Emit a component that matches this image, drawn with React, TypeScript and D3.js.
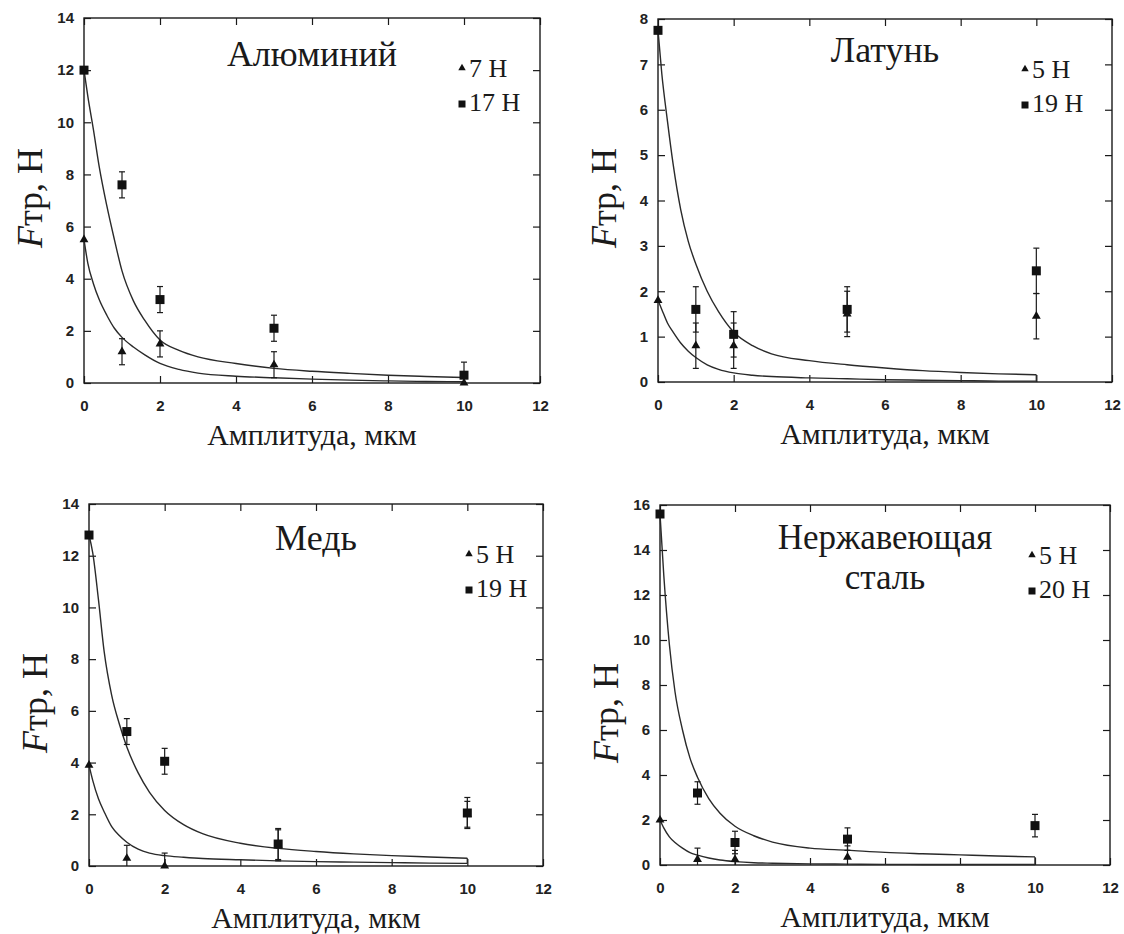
import * as d3 from "d3";
import { useEffect, useRef } from "react";

const W = 1124;
const H = 934;
const INK = "#1a1a1a";

// amplitudes at which friction was measured, мкм
const amplitudes = [0, 1, 2, 5, 10];
const fitX = [0, 0.1, 0.25, 0.4, 0.6, 0.8, 1, 1.3, 1.6, 2, 2.5, 3, 4, 5, 6, 7, 8, 9, 10];
const xTickValues = [0, 2, 4, 6, 8, 10, 12];

// Алюминий: 7 Н (triangles), 17 Н (squares)
const alLow = [5.5, 1.2, 1.5, 0.7, 0];
const alLowErr = [0, 0.5, 0.5, 0.5, 0];
const alHigh = [12.0, 7.6, 3.2, 2.1, 0.3];
const alHighErr = [0, 0.5, 0.5, 0.5, 0.5];
const alFitLow = [5.5, 4.6, 3.8, 3.2, 2.6, 2.1, 1.75, 1.38, 1.08, 0.75, 0.52, 0.38, 0.26, 0.2, 0.15, 0.11, 0.08, 0.06, 0.05];
const alFitHigh = [12.0, 11.0, 9.7, 8.3, 6.8, 5.5, 4.3, 3.15, 2.4, 1.65, 1.25, 1.0, 0.75, 0.56, 0.45, 0.37, 0.3, 0.25, 0.21];

// Латунь: 5 Н, 19 Н
const brLow = [1.8, 0.8, 0.8, 1.5, 1.45];
const brLowErr = [0, 0.5, 0.5, 0.5, 0.5];
const brHigh = [7.75, 1.6, 1.05, 1.6, 2.45];
const brHighErr = [0, 0.5, 0.5, 0.5, 0.5];
const brFitLow = [1.8, 1.6, 1.3, 1.1, 0.86, 0.68, 0.54, 0.38, 0.28, 0.2, 0.15, 0.12, 0.09, 0.07, 0.05, 0.04, 0.03, 0.02, 0.02];
const brFitHigh = [7.75, 6.8, 5.75, 4.8, 3.8, 3.1, 2.6, 2.0, 1.55, 1.1, 0.8, 0.62, 0.47, 0.38, 0.31, 0.25, 0.21, 0.18, 0.16];

// Медь: 5 Н, 19 Н
const cuLow = [3.9, 0.3, 0, 0.8, 2.0];
const cuLowErr = [0, 0.5, 0.5, 0.6, 0.5];
const cuHigh = [12.8, 5.2, 4.05, 0.85, 2.05];
const cuHighErr = [0, 0.5, 0.5, 0.6, 0.6];
const cuFitLow = [3.9, 3.3, 2.6, 2.1, 1.52, 1.18, 0.92, 0.65, 0.5, 0.4, 0.34, 0.29, 0.24, 0.2, 0.17, 0.15, 0.13, 0.11, 0.1];
const cuFitHigh = [12.8, 12.1, 10.3, 8.3, 6.6, 5.5, 4.6, 3.6, 2.85, 2.15, 1.6, 1.25, 0.88, 0.68, 0.56, 0.47, 0.4, 0.35, 0.3];

// Нержавеющая сталь: 5 Н, 20 Н
const ssLow = [2.0, 0.25, 0.25, 0.35, NaN];
const ssLowErr = [0, 0.5, 0.4, 0.5, 0];
const ssHigh = [15.6, 3.2, 1.0, 1.15, 1.75];
const ssHighErr = [0, 0.5, 0.5, 0.5, 0.5];
const ssFitLow = [2.0, 1.65, 1.25, 1.0, 0.75, 0.55, 0.44, 0.31, 0.22, 0.15, 0.1, 0.08, 0.05, 0.04, 0.03, 0.025, 0.02, 0.02, 0.02];
const ssFitHigh = [15.6, 12.9, 9.8, 7.7, 6.0, 4.75, 3.9, 2.95, 2.3, 1.72, 1.3, 1.02, 0.75, 0.66, 0.56, 0.5, 0.45, 0.4, 0.36];

const panels = [
  { title: ["Алюминий"], loads: ["7 Н", "17 Н"], yMax: 14, yStep: 2, low: alLow, lowErr: alLowErr, high: alHigh, highErr: alHighErr, fitLow: alFitLow, fitHigh: alFitHigh },
  { title: ["Латунь"], loads: ["5 Н", "19 Н"], yMax: 8, yStep: 1, low: brLow, lowErr: brLowErr, high: brHigh, highErr: brHighErr, fitLow: brFitLow, fitHigh: brFitHigh },
  { title: ["Медь"], loads: ["5 Н", "19 Н"], yMax: 14, yStep: 2, low: cuLow, lowErr: cuLowErr, high: cuHigh, highErr: cuHighErr, fitLow: cuFitLow, fitHigh: cuFitHigh },
  { title: ["Нержавеющая", "сталь"], loads: ["5 Н", "20 Н"], yMax: 16, yStep: 2, low: ssLow, lowErr: ssLowErr, high: ssHigh, highErr: ssHighErr, fitLow: ssFitLow, fitHigh: ssFitHigh },
];

// pixel frames of the four plot boxes
const frames = [
  { left: 84, right: 540, top: 18, bottom: 383, legendX: 462, titleDy: 48, yTitleY: 198 },
  { left: 658, right: 1112, top: 19, bottom: 382, legendX: 1025, titleDy: 43, yTitleY: 198 },
  { left: 89, right: 543, top: 504, bottom: 866, legendX: 469, titleDy: 46, yTitleY: 703 },
  { left: 660, right: 1110, top: 505, bottom: 865, legendX: 1032, titleDy: 44, yTitleY: 713 },
];

function drawPanel(svg, p, f) {
  const x = d3.scaleLinear().domain([0, 12]).range([f.left, f.right]);
  const y = d3.scaleLinear().domain([0, p.yMax]).range([f.bottom, f.top]);
  const yTicks = d3.range(0, p.yMax + 0.001, p.yStep);
  const g = svg.append("g");
  const serif = "'Liberation Serif', 'Times New Roman', serif";

  // axes: ticks point inward on all four sides, labels only bottom/left
  const styleAxis = (a) => {
    a.select(".domain").remove();
    a.selectAll("line").attr("stroke", INK).attr("stroke-width", 1.2);
    a.selectAll("text")
      .attr("fill", "#222")
      .style("font-family", "'Liberation Sans', Arial, sans-serif")
      .style("font-weight", "bold")
      .style("font-size", "15px");
  };
  g.append("g")
    .attr("transform", `translate(0,${f.bottom})`)
    .call(d3.axisBottom(x).tickValues(xTickValues).tickSize(-7).tickPadding(17))
    .call(styleAxis);
  g.append("g")
    .attr("transform", `translate(0,${f.top})`)
    .call(d3.axisTop(x).tickValues(xTickValues).tickSize(-7).tickFormat(() => ""))
    .call(styleAxis);
  g.append("g")
    .attr("transform", `translate(${f.left},0)`)
    .call(d3.axisLeft(y).tickValues(yTicks).tickSize(-7).tickPadding(10))
    .call(styleAxis);
  g.append("g")
    .attr("transform", `translate(${f.right},0)`)
    .call(d3.axisRight(y).tickValues(yTicks).tickSize(-7).tickFormat(() => ""))
    .call(styleAxis);

  g.append("rect")
    .attr("x", f.left)
    .attr("y", f.top)
    .attr("width", f.right - f.left)
    .attr("height", f.bottom - f.top)
    .attr("fill", "none")
    .attr("stroke", INK)
    .attr("stroke-width", 1.4);

  // fitted curves, closed by a short vertical at the last amplitude
  const line = d3
    .line()
    .x((_, i) => x(fitX[i]))
    .y((d) => y(d))
    .curve(d3.curveMonotoneX);
  [p.fitHigh, p.fitLow].forEach((fit) => {
    g.append("path")
      .attr("d", line(fit))
      .attr("fill", "none")
      .attr("stroke", "#2a2a2a")
      .attr("stroke-width", 1.4);
  });
  g.append("line")
    .attr("x1", x(fitX[fitX.length - 1]))
    .attr("x2", x(fitX[fitX.length - 1]))
    .attr("y1", y(p.fitHigh[p.fitHigh.length - 1]))
    .attr("y2", y(p.fitLow[p.fitLow.length - 1]))
    .attr("stroke", "#2a2a2a")
    .attr("stroke-width", 1.4);

  // error bars and markers
  const series = [
    { vals: p.low, errs: p.lowErr, sym: d3.symbolTriangle, size: 34 },
    { vals: p.high, errs: p.highErr, sym: d3.symbolSquare, size: 81 },
  ];
  series.forEach((s) => {
    const pts = amplitudes
      .map((a, i) => ({ a, v: s.vals[i], e: s.errs[i] }))
      .filter((d) => !isNaN(d.v));
    const eb = g.append("g").attr("stroke", INK).attr("stroke-width", 1.2);
    pts.filter((d) => d.e > 0).forEach((d) => {
      const cx = x(d.a);
      const y1 = y(d.v + d.e);
      const y2 = y(Math.max(0, d.v - d.e));
      eb.append("line").attr("x1", cx).attr("x2", cx).attr("y1", y1).attr("y2", y2);
      eb.append("line").attr("x1", cx - 3).attr("x2", cx + 3).attr("y1", y1).attr("y2", y1);
      if (d.v - d.e > 0)
        eb.append("line").attr("x1", cx - 3).attr("x2", cx + 3).attr("y1", y2).attr("y2", y2);
    });
    g.selectAll(null)
      .data(pts)
      .enter()
      .append("path")
      .attr("d", d3.symbol(s.sym, s.size))
      .attr("transform", (d) => `translate(${x(d.a)},${y(d.v)})`)
      .attr("fill", "#111");
  });

  // legend
  const leg = [
    { sym: d3.symbolTriangle, size: 24, my: f.top + 50, ty: f.top + 59 },
    { sym: d3.symbolSquare, size: 49, my: f.top + 86, ty: f.top + 93 },
  ];
  leg.forEach((l, i) => {
    g.append("path")
      .attr("d", d3.symbol(l.sym, l.size))
      .attr("transform", `translate(${f.legendX},${l.my})`)
      .attr("fill", "#111");
    g.append("text")
      .attr("x", f.legendX + 7)
      .attr("y", l.ty)
      .attr("fill", INK)
      .style("font-family", serif)
      .style("font-size", "26px")
      .text(p.loads[i]);
  });

  // panel title, wrapped over two lines for the steel panel
  const cx = (f.left + f.right) / 2;
  const titleSize = p.title.length > 1 ? 35 : 36;
  p.title.forEach((t, i) => {
    g.append("text")
      .attr("x", cx)
      .attr("y", f.top + f.titleDy + i * 40)
      .attr("text-anchor", "middle")
      .attr("fill", INK)
      .style("font-family", serif)
      .style("font-size", `${titleSize}px`)
      .text(t);
  });

  // axis titles
  g.append("text")
    .attr("x", cx)
    .attr("y", f.bottom + 62)
    .attr("text-anchor", "middle")
    .attr("fill", INK)
    .style("font-family", serif)
    .style("font-size", "30px")
    .text("Амплитуда, мкм");

  const yt = g
    .append("text")
    .attr("transform", `translate(${f.left - 42},${f.yTitleY}) rotate(-90)`)
    .attr("text-anchor", "middle")
    .attr("fill", INK)
    .style("font-family", serif)
    .style("font-size", "36px");
  yt.append("tspan").style("font-style", "italic").text("F");
  yt.append("tspan").text("тр, Н");
}

export default function App() {
  const svgRef = useRef(null);

  useEffect(() => {
    const svg = d3.select(svgRef.current);
    svg.selectAll("*").remove();
    svg.append("rect").attr("width", W).attr("height", H).attr("fill", "#fff");
    panels.forEach((p, i) => drawPanel(svg, p, frames[i]));
  }, []);

  return (
    <svg
      ref={svgRef}
      width={W}
      height={H}
      style={{ position: "absolute", left: 0, top: 0, display: "block" }}
    />
  );
}
